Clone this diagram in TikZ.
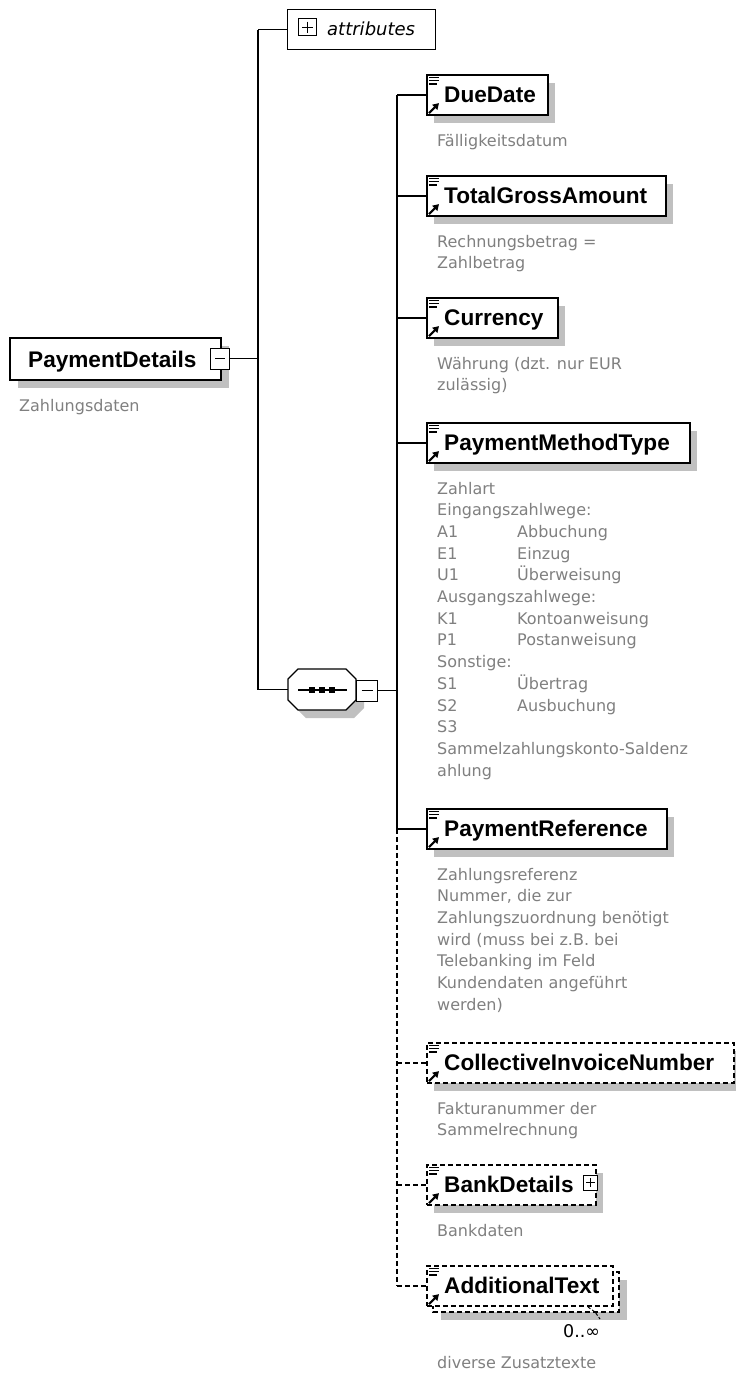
\documentclass[tikz,border=0pt]{standalone}
\usepackage{fontspec}
\setmainfont{DejaVu Sans}
\newfontfamily\namefont{Liberation Sans}
\usetikzlibrary{calc,arrows.meta}
\definecolor{descgray}{RGB}{128,128,128}
\definecolor{shadowgray}{RGB}{192,192,192}
\tikzset{
  conn/.style={line width=1.4pt, black},
  dconn/.style={conn, dash pattern=on 5pt off 3pt},
  ebox/.style={draw, line width=1.6pt, fill=white, inner sep=0pt, anchor=north west, minimum height=40pt},
  dbox/.style={ebox, dash pattern=on 5pt off 3pt},
  ename/.style={font=\namefont\bfseries\fontsize{22.6}{26}\selectfont, inner sep=0pt, anchor=base west},
  desc/.style={font=\fontsize{16}{21.7}\selectfont, text=descgray, inner sep=0pt, anchor=base west, align=left},
  shadowbox/.style={fill=shadowgray},
  pmbox/.style={draw, line width=1.4pt, fill=white, inner sep=0pt, anchor=north west},
  pmsign/.style={line width=1.4pt},
  iconline/.style={line width=1.3pt, solid},
  iconarrow/.style={line width=2.2pt, solid, -{Triangle[length=6pt,width=7pt]}},
}
\newcommand\elicons[1]{%
  \draw[iconline] ($(#1.north west)+(3,3.5)$) -- ++(10,0);
  \draw[iconline] ($(#1.north west)+(3,6.8)$) -- ++(10,0);
  \draw[iconline] ($(#1.north west)+(3,10.1)$) -- ++(8,0);
  \draw[iconarrow] ($(#1.south west)+(3,-2.5)$) -- ++(10,-10);
}
\begin{document}
\begin{tikzpicture}[x=1pt,y=-1pt]
\fill[white] (0,0) rectangle (736,1374);
\useasboundingbox (0,0) rectangle (736,1374);

% ---------- PaymentDetails ----------
\fill[shadowbox] (18,346) rectangle (229,388);
\node[ebox, minimum width=211pt, minimum height=42pt] (pd) at (9,337) {};
\node[ename] (pdt) at (28,367) {PaymentDetails};
\node[pmbox, minimum width=19pt, minimum height=21pt] (pdm) at (210,347.5) {};
\draw[pmsign] ($(pdm.center)+(-5,0)$) -- ($(pdm.center)+(5,0)$);
\node[desc] (pdd) at (19,411) {Zahlungsdaten};

% ---------- attributes ----------
\node[draw, line width=1.2pt, fill=white, inner sep=0pt, anchor=north west, minimum width=148pt, minimum height=40pt] (attr) at (287,9) {};
\node[pmbox, line width=1.2pt, minimum width=18pt, minimum height=17pt] (attrp) at (298,18) {};
\draw[pmsign, line width=1.2pt] ($(attrp.center)+(-5.5,0)$) -- ($(attrp.center)+(5.5,0)$);
\draw[pmsign, line width=1.2pt] ($(attrp.center)+(0,-5.5)$) -- ($(attrp.center)+(0,5.5)$);
\node[font=\itshape\fontsize{18}{22}\selectfont, inner sep=0pt, anchor=base west] (attrt) at (327,35) {attributes};

% ---------- sequence ----------
\fill[shadowbox] (306,677) -- (354,677) -- (364,687) -- (364,708) -- (354,718) -- (306,718) -- (296,708) -- (296,687) -- cycle;
\draw[line width=1.3pt, fill=white] (298,669) -- (346,669) -- (356,679) -- (356,700) -- (346,710) -- (298,710) -- (288,700) -- (288,679) -- cycle;
\node[inner sep=0pt, minimum width=68pt, minimum height=41pt] (seq) at (322,689.5) {};
\draw[line width=1.3pt] (298,690) -- (347,690);
\fill (309,687) rectangle (315,693);
\fill (319,687) rectangle (325,693);
\fill (329,687) rectangle (335,693);
\node[pmbox, minimum width=21pt, minimum height=21pt] (seqm) at (356,679.5) {};
\draw[pmsign] ($(seqm.center)+(-5.5,0)$) -- ($(seqm.center)+(5.5,0)$);

% ---------- first-level connectors ----------
\coordinate (bus1) at (258,0);
\draw[conn] (pdm.east) -- (pdm.east -| bus1);
\draw[conn] (attr.west -| bus1) -- (seq.west -| bus1);
\draw[conn] (attr.west -| bus1) -- (attr.west);
\draw[conn] (seq.west -| bus1) -- (seq.west);

% ---------- child elements ----------
% DueDate
\fill[shadowbox] (434,83) rectangle ++(121,40);
\node[ebox, minimum width=121pt] (due) at (426,74) {};
\node[ename] (duet) at ($(due.north west)+(18,28)$) {DueDate};
\elicons{due}
\node[desc] (dued) at (437,146) {Fälligkeitsdatum};

% TotalGrossAmount
\fill[shadowbox] (434,184) rectangle ++(239,40);
\node[ebox, minimum width=239pt] (tga) at (426,175) {};
\node[ename] (tgat) at ($(tga.north west)+(18,28)$) {TotalGrossAmount};
\elicons{tga}
\node[desc] (tgad) at (437,268.7) {Rechnungsbetrag =\\Zahlbetrag};

% Currency
\fill[shadowbox] (434,306) rectangle ++(131,40);
\node[ebox, minimum width=131pt] (cur) at (426,297) {};
\node[ename] (curt) at ($(cur.north west)+(18,28)$) {Currency};
\elicons{cur}
\node[desc] (curd) at (437,390.7) {Währung (dzt. nur EUR\\zulässig)};

% PaymentMethodType
\fill[shadowbox] (434,431) rectangle ++(263,40);
\node[ebox, minimum width=263pt] (pmt) at (426,422) {};
\node[ename] (pmtt) at ($(pmt.north west)+(18,28)$) {PaymentMethodType};
\elicons{pmt}
\node[desc] (pmtd) at (437,776.1) {Zahlart\\Eingangszahlwege:\\
\makebox[80pt][l]{A1}Abbuchung\\
\makebox[80pt][l]{E1}Einzug\\
\makebox[80pt][l]{U1}Überweisung\\
Ausgangszahlwege:\\
\makebox[80pt][l]{K1}Kontoanweisung\\
\makebox[80pt][l]{P1}Postanweisung\\
Sonstige:\\
\makebox[80pt][l]{S1}Übertrag\\
\makebox[80pt][l]{S2}Ausbuchung\\
S3\\
Sammelzahlungskonto-Saldenz\\
ahlung};

% PaymentReference
\fill[shadowbox] (434,817) rectangle ++(240,40);
\node[ebox, minimum width=240pt] (pref) at (426,808) {};
\node[ename] (preft) at ($(pref.north west)+(18,28)$) {PaymentReference};
\elicons{pref}
\node[desc] (prefd) at (437,1010.2) {Zahlungsreferenz\\Nummer, die zur\\Zahlungszuordnung benötigt\\wird (muss bei z.B. bei\\Telebanking im Feld\\Kundendaten angeführt\\werden)};

% CollectiveInvoiceNumber
\fill[shadowbox] (434,1051) rectangle ++(307,40);
\node[dbox, minimum width=307pt] (cin) at (426,1042) {};
\node[ename] (cint) at ($(cin.north west)+(18,28)$) {CollectiveInvoiceNumber};
\elicons{cin}
\node[desc] (cind) at (437,1135.7) {Fakturanummer der\\Sammelrechnung};

% BankDetails
\fill[shadowbox] (434,1173) rectangle ++(169,40);
\node[dbox, minimum width=169pt] (bank) at (426,1164) {};
\node[ename] (bankt) at ($(bank.north west)+(18,28)$) {BankDetails};
\elicons{bank}
\node[pmbox, minimum width=14pt, minimum height=15pt] (bankp) at (583,1174.5) {};
\draw[pmsign] ($(bankp.center)+(-4.5,0)$) -- ($(bankp.center)+(4.5,0)$);
\draw[pmsign] ($(bankp.center)+(0,-4.5)$) -- ($(bankp.center)+(0,4.5)$);
\node[desc] (bankd) at (437,1236) {Bankdaten};

% AdditionalText
\fill[shadowbox] (441,1280) rectangle (627,1320);
\draw[line width=1.6pt, dash pattern=on 5pt off 3pt, fill=white] (433,1272) rectangle (619,1312);
\node[dbox, minimum width=186pt] (addl) at (426,1265) {};
\node[ename] (addlt) at ($(addl.north west)+(18,28)$) {AdditionalText};
\elicons{addl}
\draw[line width=1pt, dash pattern=on 3pt off 2pt] (588,1307) -- (595,1312) -- (600,1319);
\node[font=\fontsize{17.5}{20}\selectfont, inner sep=0pt, anchor=base west] (addlm) at (563,1337) {0..∞};
\node[desc] (addld) at (437,1368) {diverse Zusatztexte};

% ---------- second-level connectors ----------
\coordinate (bus2) at (397,0);
\draw[conn] (seqm.east) -- (seqm.east -| bus2);
\draw[conn] (due.west -| bus2) -- (pref.west -| bus2);
\draw[dconn] (pref.west -| bus2) -- (addl.west -| bus2);
\draw[conn] (due.west -| bus2) -- (due.west);
\draw[conn] (tga.west -| bus2) -- (tga.west);
\draw[conn] (cur.west -| bus2) -- (cur.west);
\draw[conn] (pmt.west -| bus2) -- (pmt.west);
\draw[conn] (pref.west -| bus2) -- (pref.west);
\draw[dconn] (cin.west -| bus2) -- (cin.west);
\draw[dconn] (bank.west -| bus2) -- (bank.west);
\draw[dconn] (addl.west -| bus2) -- (addl.west);
\end{tikzpicture}
\end{document}
